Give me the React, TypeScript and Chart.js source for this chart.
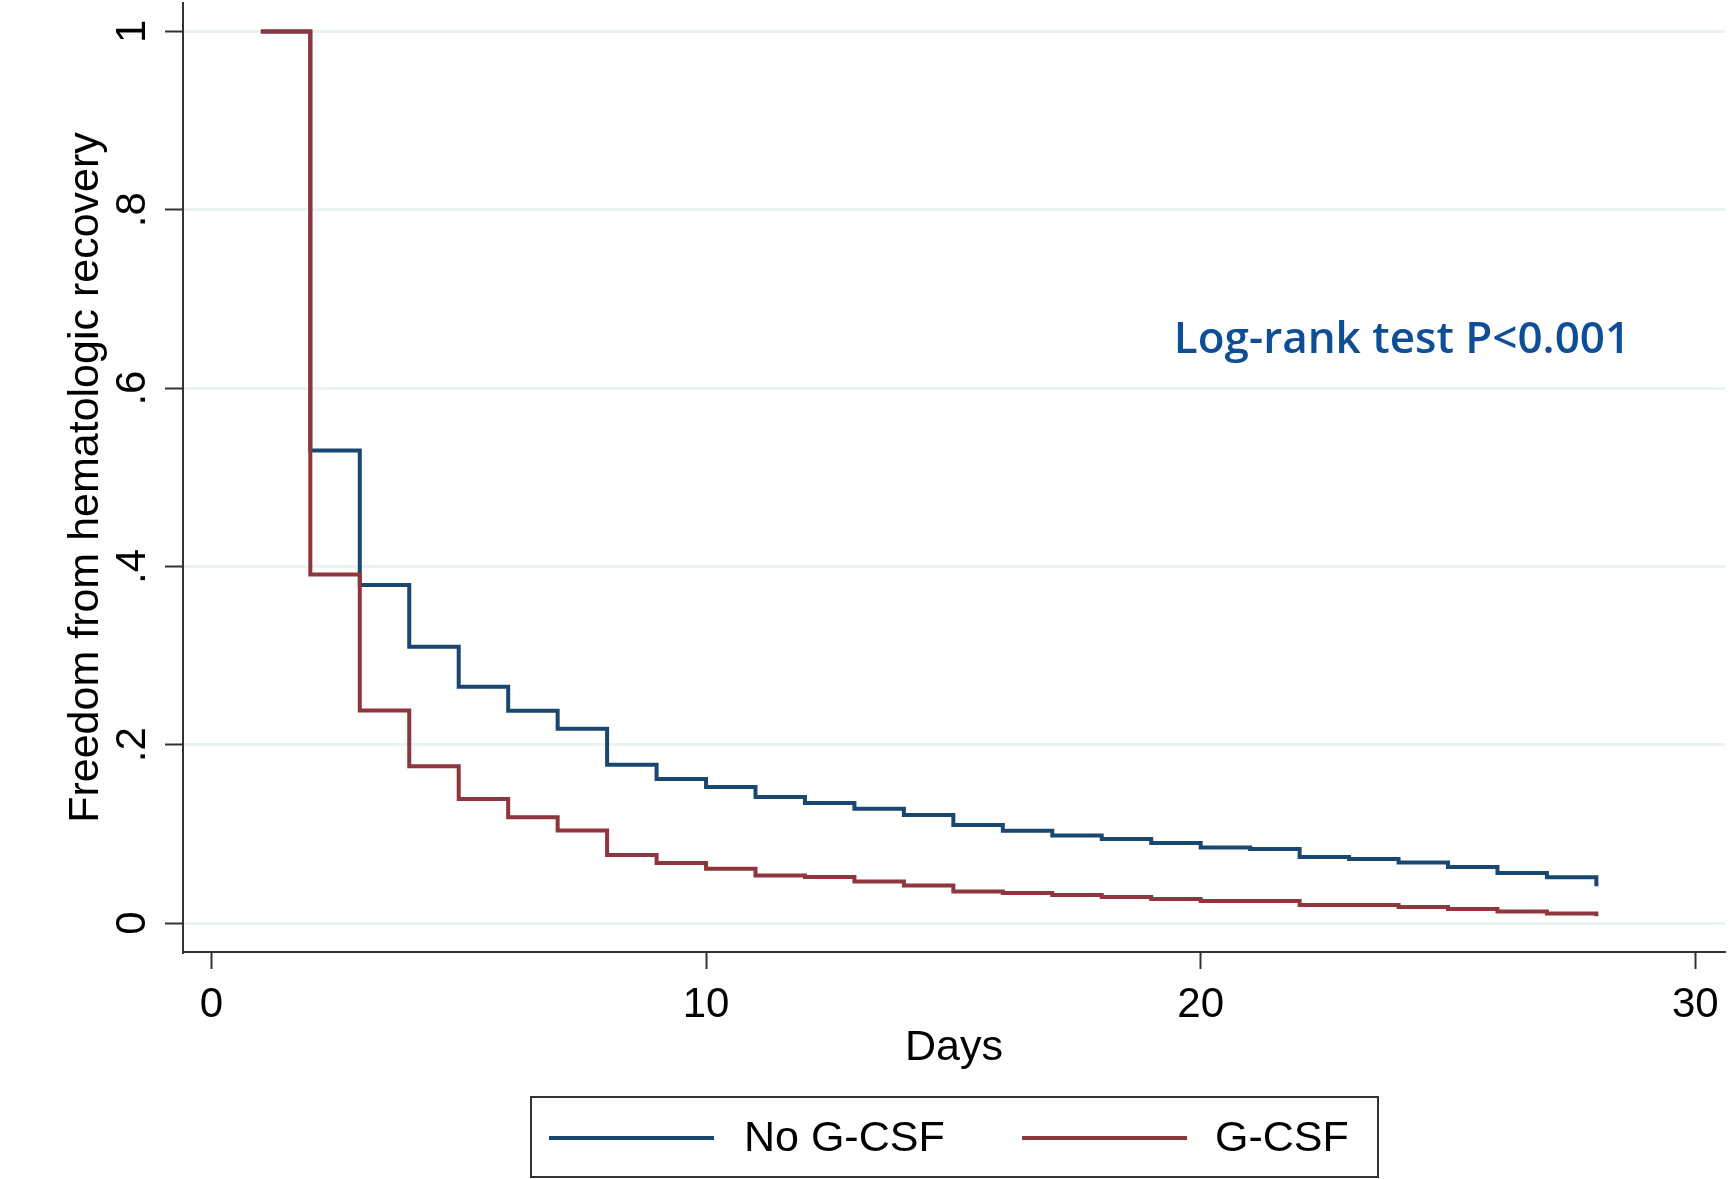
import React, { useEffect, useRef } from 'react';
import { Chart, registerables } from 'chart.js';

Chart.register(...registerables);

// ---- Data ----
const days = [1, 2, 3, 4, 5, 6, 7, 8, 9, 10, 11, 12, 13, 14, 15, 16, 17, 18, 19, 20, 21, 22, 23, 24, 25, 26, 27, 28];
const noGcsf = [1, 0.53, 0.379, 0.31, 0.265, 0.238, 0.218, 0.1775, 0.1615, 0.1525, 0.1413, 0.1346, 0.1282, 0.1211, 0.1099, 0.1035, 0.0983, 0.0942, 0.0897, 0.0848, 0.083, 0.074, 0.0718, 0.068, 0.0628, 0.0561, 0.0512, 0.0413];
const gcsf = [1, 0.391, 0.2385, 0.1757, 0.1391, 0.1185, 0.1039, 0.0763, 0.0673, 0.0609, 0.0534, 0.0516, 0.0467, 0.0422, 0.0354, 0.0336, 0.0314, 0.0292, 0.0269, 0.0247, 0.0247, 0.0202, 0.0202, 0.0179, 0.0157, 0.013, 0.0108, 0.0076];
const seriesLabels = ['No G-CSF', 'G-CSF'];
const seriesColors = ['#1a476f', '#90353b'];
const xTickValues = [0, 10, 20, 30];
const yTickValues = [0, 0.2, 0.4, 0.6, 0.8, 1];
const xTitle = 'Days';
const yTitle = 'Freedom from hematologic recovery';
const annotationText = 'Log-rank test P<0.001';
const annotationPos = { x: 24.07, y: 0.653 };

const W = 1730;
const H = 1179;
const FONT = "'Liberation Sans', Arial, sans-serif";

const formatY = (v: number) => {
  if (v === 0) return '0';
  if (v === 1) return '1';
  return '.' + Math.round(v * 10).toString();
};

const overlayPlugin = {
  id: 'overlay',
  afterDraw(chart: any) {
    const ctx = chart.ctx as CanvasRenderingContext2D;
    const xs = chart.scales.x;
    const ys = chart.scales.y;
    ctx.save();
    // annotation text
    ctx.font = `600 44px 'Open Sans', sans-serif`;
    ctx.fillStyle = '#0e4e96';
    ctx.textAlign = 'center';
    ctx.textBaseline = 'middle';
    ctx.fillText(annotationText, xs.getPixelForValue(annotationPos.x), ys.getPixelForValue(annotationPos.y));

    // legend box
    const box = { left: 531, top: 1097, right: 1378, bottom: 1177 };
    ctx.strokeStyle = '#333';
    ctx.lineWidth = 2;
    ctx.strokeRect(box.left, box.top, box.right - box.left, box.bottom - box.top);
    const items = [
      { lineFrom: 549, lineTo: 714, textX: 744 },
      { lineFrom: 1022, lineTo: 1187, textX: 1215 },
    ];
    const ly = 1138;
    ctx.font = `43px ${FONT}`;
    ctx.textAlign = 'left';
    ctx.textBaseline = 'middle';
    chart.data.datasets.forEach((ds: any, i: number) => {
      const it = items[i];
      ctx.strokeStyle = ds.borderColor;
      ctx.lineWidth = 4;
      ctx.beginPath();
      ctx.moveTo(it.lineFrom, ly);
      ctx.lineTo(it.lineTo, ly);
      ctx.stroke();
      ctx.fillStyle = '#000';
      ctx.fillText(ds.label, it.textX, ly + 1);
    });
    ctx.restore();
  },
};

export default function App() {
  const canvasRef = useRef<HTMLCanvasElement | null>(null);

  useEffect(() => {
    const canvas = canvasRef.current;
    if (!canvas) return;
    const chart = new Chart(canvas, {
      type: 'line',
      data: {
        datasets: [
          {
            label: seriesLabels[0],
            data: days.map((d, i) => ({ x: d, y: noGcsf[i] })),
            borderColor: seriesColors[0],
            backgroundColor: seriesColors[0],
            borderWidth: 4,
            stepped: 'before',
            pointRadius: 0,
            fill: false,
            order: 2,
          },
          {
            label: seriesLabels[1],
            data: days.map((d, i) => ({ x: d, y: gcsf[i] })),
            borderColor: seriesColors[1],
            backgroundColor: seriesColors[1],
            borderWidth: 4,
            stepped: 'before',
            pointRadius: 0,
            fill: false,
            order: 1,
          },
        ],
      },
      options: {
        responsive: false,
        animation: false,
        devicePixelRatio: 1,
        layout: { padding: { top: 3, right: 5, bottom: 97, left: 0 } },
        plugins: {
          legend: { display: false },
          tooltip: { enabled: false },
        },
        scales: {
          x: {
            type: 'linear',
            min: -0.574,
            max: 30.6,
            afterBuildTicks: (s: any) => {
              s.ticks = xTickValues.map((v) => ({ value: v }));
            },
            afterFit: (s: any) => {
              s.height = 130;
              s.paddingLeft = 0;
              s.paddingRight = 0;
            },
            ticks: {
              autoSkip: false,
              maxRotation: 0,
              minRotation: 0,
              padding: 11,
              color: '#000',
              font: { family: FONT, size: 42 },
              callback: (v: any) => String(v),
            },
            grid: {
              display: true,
              drawOnChartArea: false,
              drawTicks: true,
              tickLength: 17,
              tickColor: '#333',
              tickWidth: 2,
            },
            border: { display: true, color: '#333', width: 2 },
            title: {
              display: true,
              text: xTitle,
              color: '#000',
              font: { family: FONT, size: 43 },
              padding: { top: 0, bottom: 8 },
            },
          },
          y: {
            type: 'linear',
            min: -0.0325,
            max: 1.0319,
            afterBuildTicks: (s: any) => {
              s.ticks = yTickValues.map((v) => ({ value: v }));
            },
            afterFit: (s: any) => {
              s.width = 183;
              s.paddingTop = 0;
              s.paddingBottom = 0;
            },
            ticks: {
              autoSkip: false,
              minRotation: 90,
              maxRotation: 90,
              crossAlign: 'center',
              padding: 14,
              color: '#000',
              font: { family: FONT, size: 42 },
              callback: (v: any) => formatY(Number(v)),
            },
            grid: {
              display: true,
              drawOnChartArea: true,
              color: '#eaf2f3',
              lineWidth: 3,
              drawTicks: true,
              tickLength: 18,
              tickColor: '#333',
              tickWidth: 2,
            },
            border: { display: true, color: '#333', width: 2 },
            title: {
              display: true,
              text: yTitle,
              color: '#000',
              font: { family: FONT, size: 43 },
              padding: { top: 60, bottom: 0 },
            },
          },
        },
      } as any,
      plugins: [overlayPlugin],
    });
    return () => chart.destroy();
  }, []);

  return (
    <div style={{ position: 'absolute', left: 0, top: 0, width: W, height: H, background: '#fff', overflow: 'hidden' }}>
      <canvas ref={canvasRef} width={W} height={H} style={{ display: 'block' }} />
    </div>
  );
}
